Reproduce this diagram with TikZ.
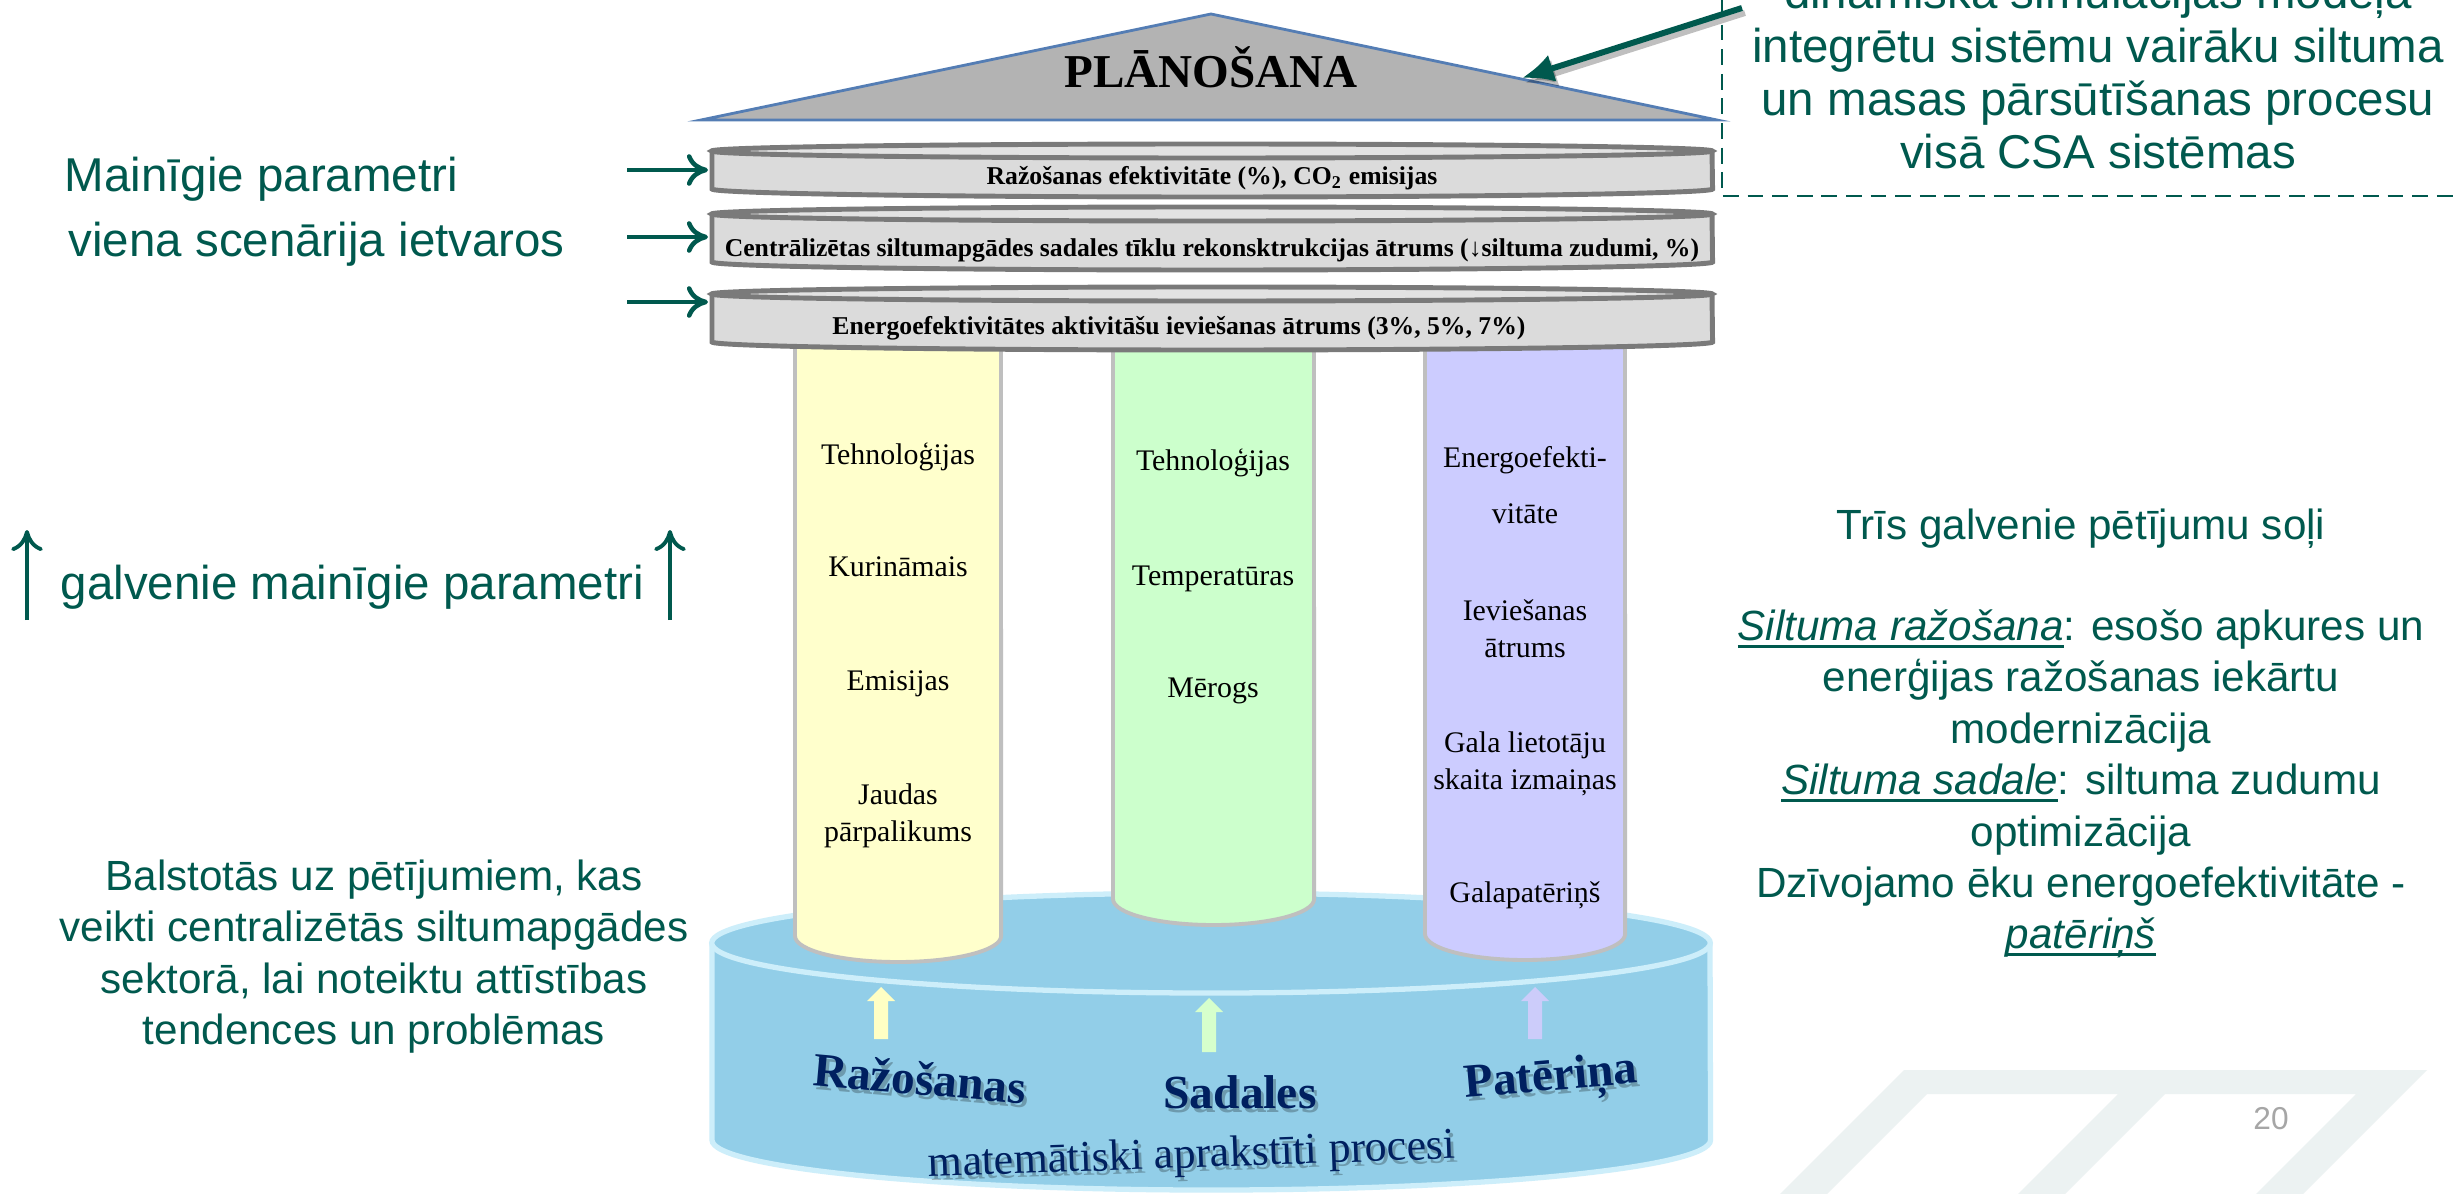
\documentclass[tikz,border=0pt]{standalone}
\usepackage{fontspec}
\setmainfont{Liberation Serif}
\newfontfamily\arialf{Liberation Sans}
\usetikzlibrary{arrows.meta}

\definecolor{slideteal}{RGB}{0,89,78}
\definecolor{decogray}{RGB}{236,242,242}
\definecolor{roofgray}{RGB}{179,179,179}
\definecolor{roofedge}{RGB}{84,125,180}
\definecolor{diskfill}{RGB}{219,219,219}
\definecolor{disktop}{RGB}{226,226,226}
\definecolor{diskedge}{RGB}{122,122,122}
\definecolor{pedge}{RGB}{191,191,191}
\definecolor{pyellow}{RGB}{255,255,204}
\definecolor{pgreen}{RGB}{204,255,204}
\definecolor{ppurple}{RGB}{204,204,255}
\definecolor{ayellow}{RGB}{255,255,196}
\definecolor{agreen}{RGB}{214,255,204}
\definecolor{apurple}{RGB}{204,204,250}
\definecolor{basefill}{RGB}{146,206,232}
\definecolor{baserim}{RGB}{205,238,250}
\definecolor{navytext}{RGB}{0,32,96}
\definecolor{pagegray}{RGB}{166,166,166}

% italic text with a rule underneath
\newcommand{\ulit}[1]{\setbox0\hbox{\itshape #1}\rlap{\rule[-2.2pt]{\wd0}{0.8pt}}\box0}

% block arrow pointing up: centre x, tip y, tail y, colour
\newcommand{\upblock}[4]{%
  \fill[#4] (#1-7,#3) -- (#1-7,#2+14) -- (#1-14,#2+14) -- (#1,#2)
    -- (#1+14,#2+14) -- (#1+7,#2+14) -- (#1+7,#3) -- cycle;}

% flat cylinder slab: top ellipse y, bottom ellipse y
\newcommand{\slab}[2]{%
  \draw[diskedge, line width=1.4pt, fill=diskfill] (712,#1) -- (712,#2)
    arc[start angle=180, end angle=360, x radius=50mm, y radius=0.8mm] -- (1712,#1);
  \draw[diskedge, line width=1.4pt, fill=disktop] (1212,#1)
    ellipse[x radius=50mm, y radius=0.7mm];}

\begin{document}
\begin{tikzpicture}[x=0.01cm, y=-0.01cm,
  boxtxt/.style={text=slideteal, font=\arialf\fontsize{13.5}{16}\selectfont, inner sep=0pt, anchor=base},
  lefttxt/.style={text=slideteal, font=\arialf\fontsize{13.5}{16}\selectfont, inner sep=0pt, anchor=base west},
  sidetxt/.style={text=slideteal, font=\arialf\fontsize{12}{14}\selectfont, inner sep=0pt, anchor=base},
  pillartxt/.style={font=\fontsize{8.5}{10}\selectfont, inner sep=0pt, anchor=base},
  disktxt/.style={font=\bfseries\fontsize{7.3}{9}\selectfont, inner sep=0pt, anchor=base},
  basetxt/.style={text=navytext, font=\bfseries\fontsize{13.5}{16}\selectfont, inner sep=0pt},
  basesub/.style={text=navytext, font=\fontsize{12.5}{15}\selectfont, inner sep=0pt},
  shadowed/.style={text=black, text opacity=0.25},
  thinarrow/.style={draw=slideteal, line width=1.3pt,
    -{Computer Modern Rightarrow[length=6pt, width=9pt]}},
  pillaredge/.style={draw=pedge, line width=1.1pt}]

\clip (0,0) rectangle (2453,1194);
\fill[white] (0,0) rectangle (2453,1194);

% decorative band in the lower right corner
\fill[decogray] (1904,1070) -- (2427,1070) -- (2303,1194) -- (2256,1194)
  -- (2356,1094) -- (2165,1094) -- (2065,1194) -- (2018,1194) -- (2118,1094)
  -- (1927,1094) -- (1827,1194) -- (1780,1194) -- cycle;
\node[text=pagegray, font=\arialf\fontsize{9}{11}\selectfont, inner sep=0pt] (pagenum) at (2271,1119) {20};

% dashed note frame and its text
\coordinate (boxtl) at (1722,0);
\coordinate (boxbl) at (1722,196);
\coordinate (boxbr) at (2453,196);
\draw[slideteal, line width=0.6pt, dash pattern=on 4.5pt off 2.5pt] (boxtl) -- (boxbl) -- (boxbr);
\node[boxtxt] (note0) at (2098,9) {dinamiskā simulācijas modeļa};
\node[boxtxt] (note1) at (2098,63) {integrētu sistēmu vairāku siltuma};
\node[boxtxt] (note2) at (2098,116) {un masas pārsūtīšanas procesu};
\node[boxtxt] (note3) at (2098,169) {visā CSA sistēmas};

% roof
\coordinate (roofL) at (701,120);
\coordinate (roofR) at (1717,120);
\coordinate (roofT) at (1211,14);
\filldraw[fill=roofgray, draw=roofedge, line width=0.8pt] (roofL) -- (roofT) -- (roofR) -- cycle;
\node[anchor=base, font=\bfseries\fontsize{13.4}{16}\selectfont, inner sep=0pt] (plan) at (1211,88) {PLĀNOŠANA};

% pointer from the note to the roof
\coordinate (arrtail) at (1742,8);
\coordinate (arrtip) at (1522,78);
\draw[black, opacity=0.25, line width=1.7pt, -{Latex[length=9pt, width=8pt]}]
  ([shift={(3,5)}]arrtail) -- ([shift={(3,5)}]arrtip);
\draw[slideteal, line width=1.7pt, -{Latex[length=9pt, width=8pt]}] (arrtail) -- (arrtip);

% base cylinder
\fill[basefill] (712,943) -- (712,1140)
  arc[start angle=180, end angle=360, x radius=49.9mm, y radius=5mm] -- (1710,943) -- cycle;
\draw[baserim, line width=1.5pt] (712,943) -- (712,1140)
  arc[start angle=180, end angle=360, x radius=49.9mm, y radius=5mm] -- (1710,943);
\draw[baserim, line width=1.5pt, fill=basefill] (1211,943) ellipse[x radius=49.9mm, y radius=5mm];

% pillars
\fill[pyellow] (795,330) -- (795,936)
  arc[start angle=180, end angle=360, x radius=10.3mm, y radius=2.6mm] -- (1001,330) -- cycle;
\draw[pillaredge] (795,330) -- (795,936)
  arc[start angle=180, end angle=360, x radius=10.3mm, y radius=2.6mm] -- (1001,330);
\fill[pgreen] (1113,330) -- (1113,899)
  arc[start angle=180, end angle=360, x radius=10.05mm, y radius=2.6mm] -- (1314,330) -- cycle;
\draw[pillaredge] (1113,330) -- (1113,899)
  arc[start angle=180, end angle=360, x radius=10.05mm, y radius=2.6mm] -- (1314,330);
\fill[ppurple] (1425,330) -- (1425,934)
  arc[start angle=180, end angle=360, x radius=10mm, y radius=2.6mm] -- (1625,330) -- cycle;
\draw[pillaredge] (1425,330) -- (1425,934)
  arc[start angle=180, end angle=360, x radius=10mm, y radius=2.6mm] -- (1625,330);

% pillar labels
\node[pillartxt] (y1) at (898,465) {Tehnoloģijas};
\node[pillartxt] (y2) at (898,577) {Kurināmais};
\node[pillartxt] (y3) at (898,690) {Emisijas};
\node[pillartxt] (y4) at (898,804) {Jaudas};
\node[pillartxt] (y5) at (898,841) {pārpalikums};
\node[pillartxt] (g1) at (1213,471) {Tehnoloģijas};
\node[pillartxt] (g2) at (1213,585) {Temperatūras};
\node[pillartxt] (g3) at (1213,697) {Mērogs};
\node[pillartxt] (p1) at (1525,468) {Energoefekti-};
\node[pillartxt] (p2) at (1525,524) {vitāte};
\node[pillartxt] (p3) at (1525,620) {Ieviešanas};
\node[pillartxt] (p4) at (1525,657) {ātrums};
\node[pillartxt] (p5) at (1525,752) {Gala lietotāju};
\node[pillartxt] (p6) at (1525,789) {skaita izmaiņas};
\node[pillartxt] (p7) at (1525,902) {Galapatēriņš};

% slabs
\slab{294}{342}
\slab{214}{262}
\slab{151}{189}
\node[disktxt] (s1) at (1212,185) {Ražošanas efektivitāte (\%), CO\textsubscript{2} emisijas};
\node[disktxt] (s2) at (1212,257) {Centrālizētas siltumapgādes sadales tīklu rekonsktrukcijas ātrums (↓siltuma zudumi, \%)};
\node[disktxt] (s3) at (1179,335) {Energoefektivitātes aktivitāšu ieviešanas ātrums (3\%, 5\%, 7\%)};

% arrows into the slabs
\coordinate (in1) at (627,170); \coordinate (slab1w) at (708,170);
\coordinate (in2) at (627,237); \coordinate (slab2w) at (708,237);
\coordinate (in3) at (627,302); \coordinate (slab3w) at (708,302);
\draw[thinarrow] (in1) -- (slab1w);
\draw[thinarrow] (in2) -- (slab2w);
\draw[thinarrow] (in3) -- (slab3w);

% arrows inside the base
\upblock{881}{987}{1039}{ayellow}
\upblock{1209}{998}{1052}{agreen}
\upblock{1535}{987}{1039}{apurple}

% base labels with soft shadow
\node[basetxt, shadowed, rotate=-5] (razS) at (923,1082) {Ražošanas};
\node[basetxt, rotate=-5] (raz) at (920,1078) {Ražošanas};
\node[basetxt, shadowed] (sadS) at (1243,1096) {Sadales};
\node[basetxt] (sad) at (1240,1092) {Sadales};
\node[basetxt, shadowed, rotate=5] (patS) at (1554,1084) {Patēriņa};
\node[basetxt, rotate=5] (pat) at (1551,1080) {Patēriņa};
\node[basesub, shadowed, rotate=2] (mathS) at (1195,1161) {matemātiski aprakstīti procesi};
\node[basesub, rotate=2] (math) at (1192,1157) {matemātiski aprakstīti procesi};

% left side texts
\node[lefttxt] (var1) at (64,192) {Mainīgie parametri};
\node[lefttxt] (var2) at (68,257) {viena scenārija ietvaros};
\node[lefttxt] (mainpar) at (60,600) {galvenie mainīgie parametri};
\coordinate (upLa) at (27,620); \coordinate (upLb) at (27,530);
\coordinate (upRa) at (670,620); \coordinate (upRb) at (670,530);
\draw[thinarrow, line width=1.1pt] (upLa) -- (upLb);
\draw[thinarrow, line width=1.1pt] (upRa) -- (upRb);

\node[sidetxt] (b1) at (374,890) {Balstotās uz pētījumiem, kas};
\node[sidetxt] (b2) at (374,941) {veikti centralizētās siltumapgādes};
\node[sidetxt] (b3) at (374,993) {sektorā, lai noteiktu attīstības};
\node[sidetxt] (b4) at (374,1044) {tendences un problēmas};

% right side texts
\node[sidetxt] (r0) at (2081,539) {Trīs galvenie pētījumu soļi};
\node[sidetxt] (r1) at (2081,640) {\ulit{Siltuma ražošana}: esošo apkures un};
\node[sidetxt] (r2) at (2081,692) {enerģijas ražošanas iekārtu};
\node[sidetxt] (r3) at (2081,743) {modernizācija};
\node[sidetxt] (r4) at (2081,794) {\ulit{Siltuma sadale}: siltuma zudumu};
\node[sidetxt] (r5) at (2081,846) {optimizācija};
\node[sidetxt] (r6) at (2081,897) {Dzīvojamo ēku energoefektivitāte -};
\node[sidetxt] (r7) at (2081,948) {\ulit{patēriņš}};
\end{tikzpicture}
\end{document}
